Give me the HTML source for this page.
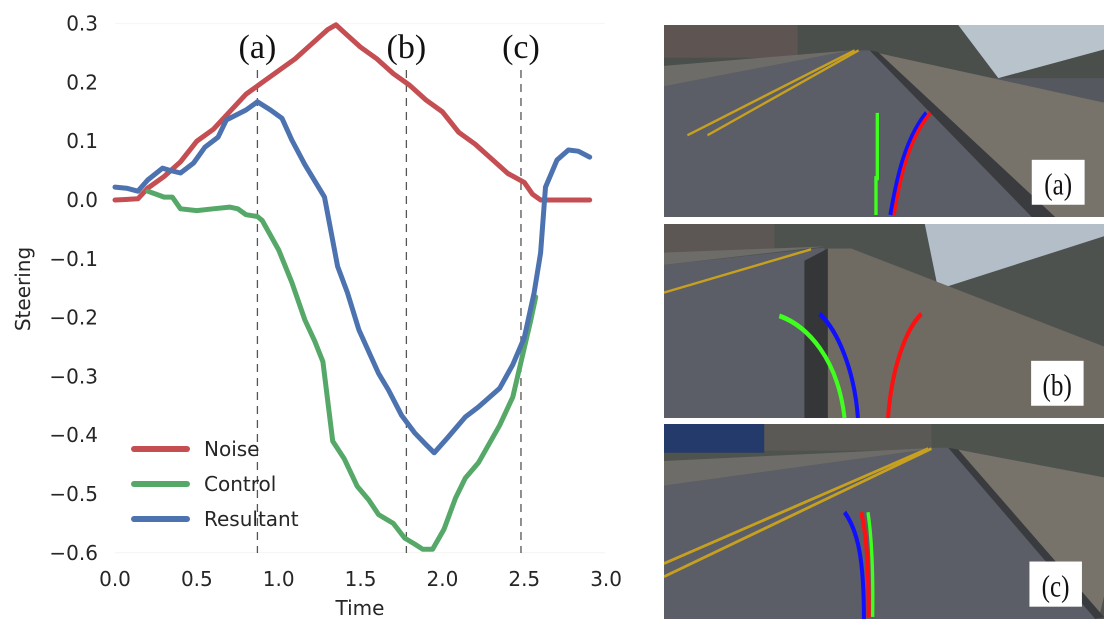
<!DOCTYPE html>
<html><head><meta charset="utf-8"><style>
html,body{margin:0;padding:0;background:#fff;width:1119px;height:640px;overflow:hidden}
svg text{font-family:"DejaVu Sans","Liberation Sans",sans-serif;fill:#262626}
.serif{font-family:"Liberation Serif",serif}
</style></head><body>
<svg id="chart" width="1119" height="640" style="position:absolute;left:0;top:0">
<g id="axes"></g>
<g id="marks"></g>
<text x="0" y="0" font-size="20" text-anchor="middle" transform="translate(30,289) rotate(-90)">Steering</text>
<text x="360" y="615" font-size="20" text-anchor="middle">Time</text>
<g>
<line x1="134" y1="449" x2="187" y2="449" stroke="#c44e52" stroke-width="6" stroke-linecap="round"/>
<text x="204" y="456" font-size="20">Noise</text>
<line x1="134" y1="484" x2="187" y2="484" stroke="#55a868" stroke-width="6" stroke-linecap="round"/>
<text x="204" y="491" font-size="20">Control</text>
<line x1="134" y1="519" x2="187" y2="519" stroke="#4c72b0" stroke-width="6" stroke-linecap="round"/>
<text x="204" y="526" font-size="20">Resultant</text>
</g>
</svg>

<svg style="position:absolute;left:664px;top:25px" width="440" height="192" viewBox="0 0 1316 470" preserveAspectRatio="none">
<rect width="1316" height="470" fill="#55585e"/>
<rect width="1316" height="130" fill="#4a4f4b"/>
<polygon points="880,0 1316,0 1316,60 1000,130" fill="#b9c3cc"/>
<rect x="0" y="0" width="400" height="80" fill="#5e5552"/>
<polygon points="0,100 560,62 0,150" fill="#6e6c68"/>
<polygon points="0,150 560,62 615,62 1100,470 0,470" fill="#5b5e66"/>
<polygon points="620,65 1316,190 1316,470 1130,470" fill="#77726a"/>
<polygon points="615,62 640,66 1170,470 1100,470" fill="#3a3b3e"/>
<line x1="70" y1="270" x2="570" y2="62" stroke="#c8a020" stroke-width="6"/>
<line x1="130" y1="270" x2="582" y2="62" stroke="#c8a020" stroke-width="6"/>
<polyline points="638,215 638,375 634,375 634,465" fill="none" stroke="#3fff1f" stroke-width="10"/>
<path d="M677,465 C695,380 720,280 785,215" fill="none" stroke="#1010ff" stroke-width="12"/>
<path d="M688,465 C705,380 730,280 797,215" fill="none" stroke="#ff1010" stroke-width="10"/>
<rect x="1100" y="330" width="158" height="110" fill="#fff"/>
<text class="serif" x="1179" y="415" font-size="75" text-anchor="middle" transform="scale(1,1)" style="fill:#111">(a)</text>
</svg>

<svg style="position:absolute;left:664px;top:224px" width="440" height="194" viewBox="0 0 1316 475" preserveAspectRatio="none">
<rect width="1316" height="475" fill="#4d524f"/>
<polygon points="780,0 1316,0 1316,30 820,160" fill="#b3bec8"/>
<rect x="0" y="0" width="330" height="70" fill="#5c5754"/>
<polygon points="0,70 480,55 0,100" fill="#6e6c68"/>
<polygon points="0,100 480,58 500,475 0,475" fill="#5b5e66"/>
<polygon points="420,90 490,60 500,475 420,475" fill="#353638"/>
<polygon points="490,60 560,60 1316,300 1316,475 490,475" fill="#6f6a62"/>
<line x1="0" y1="168" x2="440" y2="62" stroke="#c8a020" stroke-width="6"/>
<path d="M345,225 C430,250 520,330 540,475" fill="none" stroke="#3fff1f" stroke-width="12"/>
<path d="M465,220 C520,260 570,360 580,475" fill="none" stroke="#1010ff" stroke-width="12"/>
<path d="M670,475 C680,360 720,260 770,220" fill="none" stroke="#ff1010" stroke-width="12"/>
<rect x="1098" y="335" width="157" height="110" fill="#fff"/>
<text class="serif" x="1176" y="420" font-size="75" text-anchor="middle" style="fill:#111">(b)</text>
</svg>

<svg style="position:absolute;left:664px;top:424px" width="440" height="195" viewBox="0 0 1316 475" preserveAspectRatio="none">
<rect width="1316" height="475" fill="#4e534e"/>
<rect x="0" y="0" width="300" height="70" fill="#243a6a"/>
<rect x="300" y="0" width="500" height="65" fill="#5b5956"/>
<polygon points="0,90 820,58 0,150" fill="#6e6c68"/>
<polygon points="0,150 820,58 850,58 1300,475 0,475" fill="#5b5e66"/>
<polygon points="850,58 1316,130 1316,420 1300,475" fill="#77726a"/>
<polygon points="850,58 880,62 1316,470 1290,475" fill="#3a3b3e"/>
<line x1="0" y1="340" x2="790" y2="60" stroke="#c8a020" stroke-width="7"/>
<line x1="0" y1="372" x2="800" y2="60" stroke="#c8a020" stroke-width="7"/>
<path d="M540,215 C580,260 598,330 598,475" fill="none" stroke="#1010ff" stroke-width="12"/>
<path d="M610,215 C622,280 626,360 624,470" fill="none" stroke="#3fff1f" stroke-width="10"/>
<path d="M590,215 C608,280 612,360 612,470" fill="none" stroke="#ff1010" stroke-width="12"/>
<rect x="1093" y="335" width="157" height="110" fill="#fff"/>
<text class="serif" x="1171" y="420" font-size="75" text-anchor="middle" style="fill:#111">(c)</text>
</svg>

<script>
const yTicks = [0.3, 0.2, 0.1, 0.0, -0.1, -0.2, -0.3, -0.4, -0.5, -0.6];
const xTicks = [0.0, 0.5, 1.0, 1.5, 2.0, 2.5, 3.0];
const markerTimes = [0.87, 1.78, 2.48];
const markerLabels = ["(a)", "(b)", "(c)"];
const noiseT = [0,0.14,0.2,0.3,0.4,0.5,0.6,0.7,0.8,0.9,1.0,1.1,1.2,1.3,1.35,1.4,1.5,1.6,1.7,1.8,1.9,2.0,2.1,2.2,2.3,2.4,2.5,2.55,2.6,2.9];
const noiseV = [0,0.002,0.02,0.04,0.065,0.1,0.12,0.15,0.18,0.2,0.22,0.24,0.265,0.29,0.298,0.285,0.26,0.24,0.215,0.195,0.17,0.15,0.115,0.095,0.07,0.045,0.03,0.01,0,0];
const controlT = [0.2,0.25,0.3,0.35,0.4,0.5,0.6,0.7,0.75,0.8,0.87,0.9,1.0,1.08,1.16,1.22,1.27,1.33,1.4,1.48,1.55,1.61,1.7,1.77,1.83,1.88,1.94,2.01,2.08,2.14,2.22,2.35,2.43,2.54,2.57];
const controlV = [0.015,0.01,0.005,0.005,-0.015,-0.018,-0.015,-0.012,-0.015,-0.025,-0.028,-0.035,-0.085,-0.14,-0.204,-0.24,-0.275,-0.41,-0.44,-0.487,-0.51,-0.535,-0.55,-0.575,-0.585,-0.594,-0.594,-0.56,-0.507,-0.473,-0.447,-0.383,-0.335,-0.204,-0.165];
const resultT = [0,0.07,0.14,0.2,0.29,0.34,0.4,0.48,0.55,0.63,0.68,0.8,0.87,0.95,1.02,1.08,1.16,1.28,1.36,1.42,1.49,1.61,1.67,1.75,1.83,1.9,1.95,2.03,2.14,2.22,2.35,2.43,2.5,2.56,2.6,2.63,2.7,2.77,2.83,2.9];
const resultV = [0.022,0.02,0.015,0.034,0.054,0.05,0.046,0.063,0.09,0.107,0.136,0.153,0.167,0.153,0.139,0.102,0.06,0.005,-0.113,-0.158,-0.221,-0.295,-0.323,-0.366,-0.396,-0.416,-0.43,-0.405,-0.369,-0.352,-0.32,-0.28,-0.234,-0.158,-0.09,0.022,0.068,0.085,0.083,0.073];

const NS = "http://www.w3.org/2000/svg";
function xs(t){ return 115 + t * 163.7; }
function ys(v){ return 200 - v * 588; }
function mk(tag, attrs, parent){ const e=document.createElementNS(NS,tag); for(const k in attrs) e.setAttribute(k,attrs[k]); parent.appendChild(e); return e; }
const axes = document.getElementById('axes');
const marks = document.getElementById('marks');
mk('line',{x1:115,y1:ys(0.3),x2:605,y2:ys(0.3),stroke:'#f4f4f4','stroke-width':1},axes);
mk('line',{x1:115,y1:ys(-0.6),x2:605,y2:ys(-0.6),stroke:'#f4f4f4','stroke-width':1},axes);
yTicks.forEach(v=>{
  const t = mk('text',{x:98,y:ys(v)+7,'font-size':20,'text-anchor':'end'},axes);
  t.textContent = (v<0?'\u2212':'') + Math.abs(v).toFixed(1);
  
  
});
xTicks.forEach(v=>{
  const t = mk('text',{x:xs(v),y:586,'font-size':20,'text-anchor':'middle'},axes);
  t.textContent = v.toFixed(1);
  
  
});
markerTimes.forEach((m,i)=>{
  const l = mk('line',{x1:xs(m),y1:70,x2:xs(m),y2:553,stroke:'#555','stroke-width':1.3,'stroke-dasharray':'8,6'},axes);
  
  
  const t = mk('text',{x:xs(m),y:58,'font-size':34,'text-anchor':'middle','class':'serif'},axes);
  t.style.fill = '#111';
  t.textContent = markerLabels[i];
  
  
});
function series(T,V,color,name){
  const p = mk('polyline',{points:T.map((t,i)=>xs(t).toFixed(1)+','+ys(V[i]).toFixed(1)).join(' '),fill:'none',stroke:color,'stroke-width':5,'stroke-linejoin':'round','stroke-linecap':'round'},marks);
  
  
}
series(noiseT,noiseV,'#c44e52','noise-line');
series(controlT,controlV,'#55a868','control-line');
series(resultT,resultV,'#4c72b0','resultant-line');
</script>
</body></html>
